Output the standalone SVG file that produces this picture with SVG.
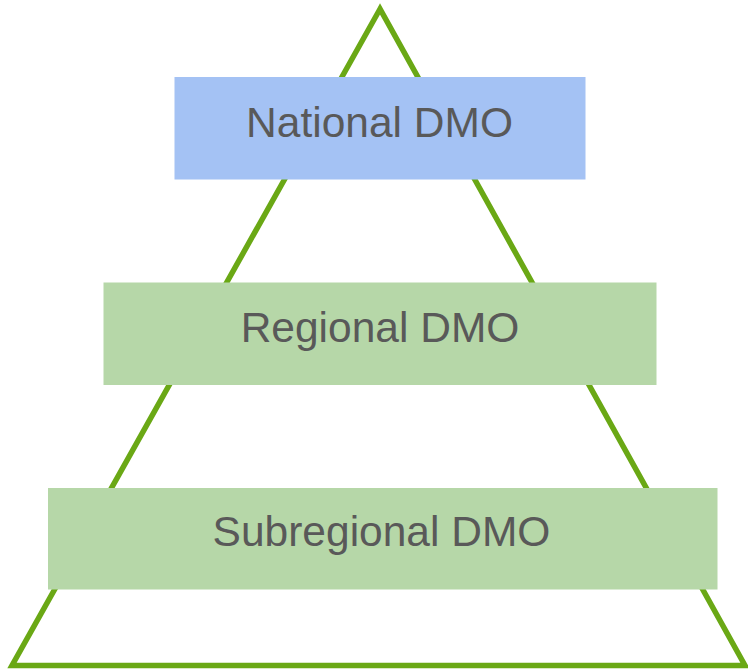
<svg xmlns="http://www.w3.org/2000/svg" width="748" height="669" viewBox="0 0 748 669">
<style>
.tri{fill:none;stroke:#6aa815;stroke-width:5.5;stroke-linejoin:miter}
.lbl{font-family:"Liberation Sans",Arial,sans-serif;font-size:42.5px;fill:#595959;text-anchor:middle}
.blue{fill:#a4c2f4}
.green{fill:#b6d7a8}
</style>
<rect width="748" height="669" fill="#ffffff"/>
<g id="pyramid">
<path class="tri" d="M380 9 L12 665.5 L745 665.5 Z"/>
</g>
<g id="national">
<rect class="blue" x="174.5" y="77" width="411" height="102.5"/>
<text class="lbl" x="379.5" y="137">National DMO</text>
</g>
<g id="regional">
<rect class="green" x="103.5" y="282.5" width="553" height="102.5"/>
<text class="lbl" x="380" y="342">Regional DMO</text>
</g>
<g id="subregional">
<rect class="green" x="48" y="488" width="669.5" height="101.5"/>
<text class="lbl" x="381.5" y="546">Subregional DMO</text>
</g>
</svg>
